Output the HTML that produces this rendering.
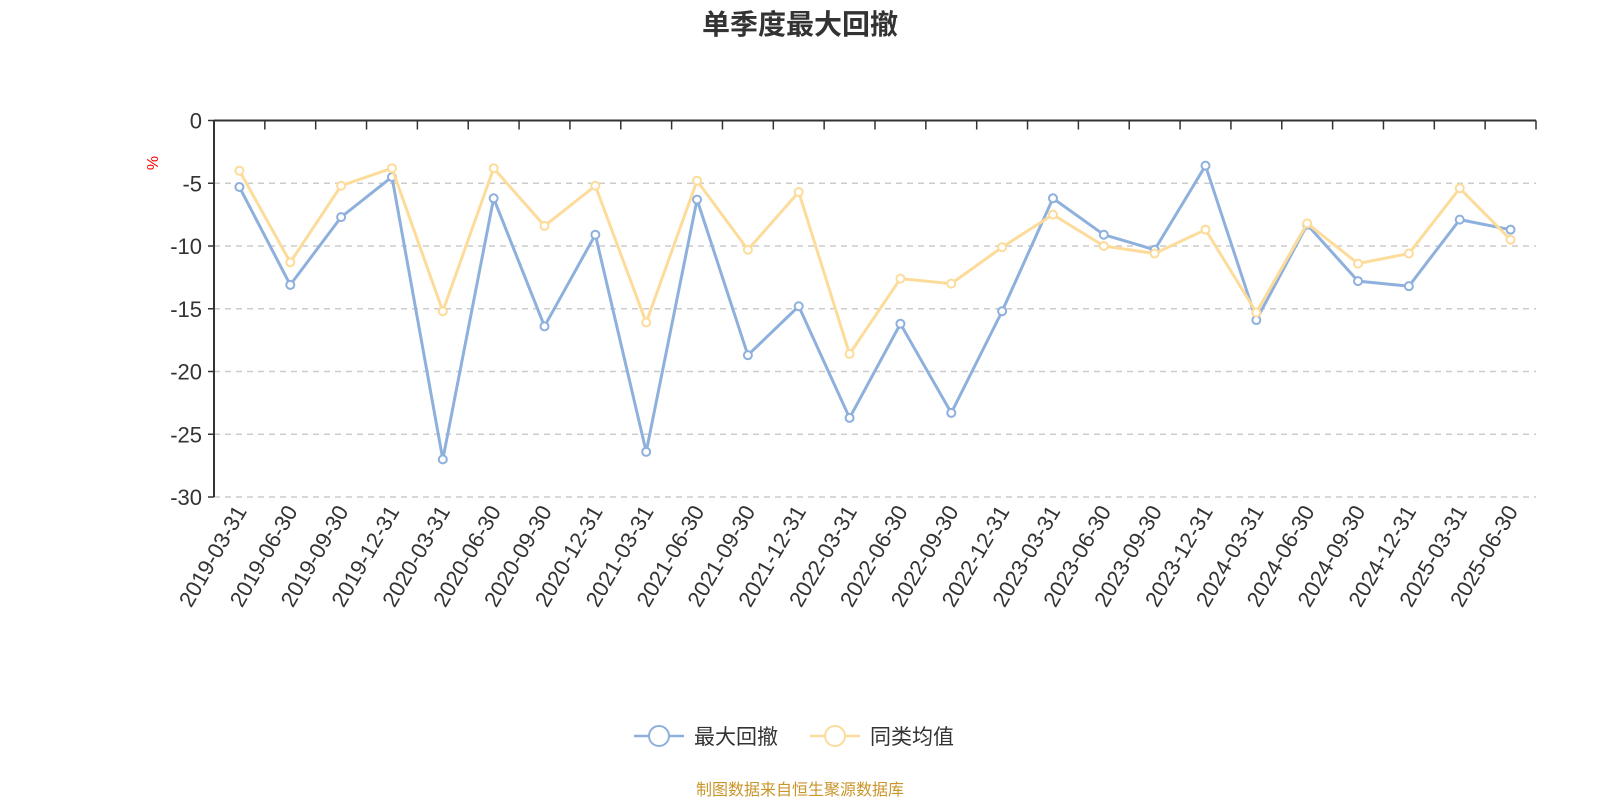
<!DOCTYPE html>
<html><head><meta charset="utf-8"><style>
body{margin:0;background:#fff;}
svg text{font-family:"Liberation Sans","Noto Sans CJK SC",sans-serif;}
</style></head><body>
<svg id="c" width="1600" height="800" viewBox="0 0 1600 800" xmlns="http://www.w3.org/2000/svg">
<text x="800" y="34" text-anchor="middle" font-size="28" font-weight="bold" fill="#333">单季度最大回撤</text>
<text x="0" y="0" transform="translate(158,163) rotate(-90)" text-anchor="middle" font-size="16" fill="red">%</text>
<g id="grid"></g><g id="axes"></g><g id="series"></g>
<g>
<g>
<line x1="634" y1="736" x2="684" y2="736" stroke="#8eb0dc" stroke-width="2.5"/>
<circle cx="659" cy="736" r="10" fill="#fff" stroke="#8eb0dc" stroke-width="2"/>
<text x="694" y="744" font-size="21" fill="#333">最大回撤</text></g>
<g>
<line x1="810" y1="736" x2="860" y2="736" stroke="#fddc9b" stroke-width="2.5"/>
<circle cx="835" cy="736" r="10" fill="#fff" stroke="#fddc9b" stroke-width="2"/>
<text x="870" y="744" font-size="21" fill="#333">同类均值</text></g>
</g>
<text x="800" y="795" text-anchor="middle" font-size="16" fill="#c9962b">制图数据来自恒生聚源数据库</text>
</svg>
<script>
const categories=["2019-03-31","2019-06-30","2019-09-30","2019-12-31","2020-03-31","2020-06-30","2020-09-30","2020-12-31","2021-03-31","2021-06-30","2021-09-30","2021-12-31","2022-03-31","2022-06-30","2022-09-30","2022-12-31","2023-03-31","2023-06-30","2023-09-30","2023-12-31","2024-03-31","2024-06-30","2024-09-30","2024-12-31","2025-03-31","2025-06-30"];
const maxDrawdown=[-5.3,-13.1,-7.7,-4.5,-27.0,-6.2,-16.4,-9.1,-26.4,-6.3,-18.7,-14.8,-23.7,-16.2,-23.3,-15.2,-6.2,-9.1,-10.3,-3.6,-15.9,-8.3,-12.8,-13.2,-7.9,-8.7];
const peerAverage=[-4.0,-11.3,-5.2,-3.8,-15.2,-3.8,-8.4,-5.2,-16.1,-4.8,-10.3,-5.7,-18.6,-12.6,-13.0,-10.1,-7.5,-10.0,-10.6,-8.7,-15.3,-8.2,-11.4,-10.6,-5.4,-9.5];
const yTicks=[0,-5,-10,-15,-20,-25,-30];
const NS="http://www.w3.org/2000/svg";
const L=214,R=1536,T=120.5,B=497,YMIN=-30,YMAX=0;
const bw=(R-L)/categories.length;
const xs=i=>L+bw*(i+0.5);
const ys=v=>T+(YMAX-v)/(YMAX-YMIN)*(B-T);
function mk(tag,attrs,parent){const e=document.createElementNS(NS,tag);for(const k in attrs)e.setAttribute(k,attrs[k]);parent.appendChild(e);return e;}
const grid=document.getElementById('grid'),axes=document.getElementById('axes'),ser=document.getElementById('series');
yTicks.forEach(t=>{
 if(t!==0){const g=mk('line',{x1:L,x2:R,y1:ys(t),y2:ys(t),stroke:'#ccc','stroke-width':1.5,'stroke-dasharray':'6,5'},grid);
 
 }
 const tk=mk('line',{x1:L-6,x2:L,y1:ys(t),y2:ys(t),stroke:'#333','stroke-width':1.5},axes);
 
 
 const lb=mk('text',{x:L-12,y:ys(t)+8,'text-anchor':'end','font-size':22,fill:'#333'},axes);
 lb.textContent=t;
 
 
});
const ya=mk('line',{x1:L,x2:L,y1:T,y2:B,stroke:'#333','stroke-width':2},axes);


const xa=mk('line',{x1:L,x2:R,y1:T,y2:T,stroke:'#333','stroke-width':2},axes);


for(let i=0;i<=categories.length;i++){
 const tk=mk('line',{x1:L+bw*i,x2:L+bw*i,y1:T,y2:T+9,stroke:'#333','stroke-width':1.5},axes);
 
 
}
categories.forEach((c,i)=>{
 const x=xs(i)+8,y=B+14;
 const lb=mk('text',{x:x,y:y,transform:`rotate(-60 ${x} ${y})`,'text-anchor':'end','font-size':22,fill:'#333'},axes);
 lb.textContent=c;
 
 
});
function draw(data,color,name){
 const g=mk('g',{},ser);
 
 
 const p=mk('polyline',{points:data.map((v,i)=>xs(i)+','+ys(v)).join(' '),fill:'none',stroke:color,'stroke-width':3,'stroke-linejoin':'round'},g);
 
 
 data.forEach((v,i)=>{
  const c=mk('circle',{cx:xs(i),cy:ys(v),r:4,fill:'#fff',stroke:color,'stroke-width':2},g);
  
  
 });
}
draw(maxDrawdown,'#8eb0dc','max-drawdown-series');
draw(peerAverage,'#fddc9b','peer-average-series');
</script>
</body></html>
